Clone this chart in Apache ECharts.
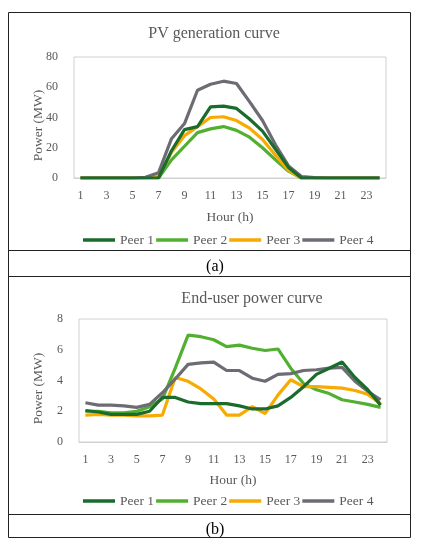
<!DOCTYPE html>
<html><head><meta charset="utf-8">
<script src="https://cdn.jsdelivr.net/npm/echarts@6/dist/echarts.min.js"></script>
<style>html,body{margin:0;padding:0;background:#fff}#c{width:424px;height:550px}</style>
</head><body><div id="c"></div>
<script>
var hours = ['1','2','3','4','5','6','7','8','9','10','11','12','13','14','15','16','17','18','19','20','21','22','23','24'];
var seriesNames = ['Peer 1','Peer 2','Peer 3','Peer 4'];
var colors = ['#1b6b2c','#52b030','#f7aa00','#6d6c74'];
// PV generation (MW)
var pvPeer1 = [0,0,0,0,0,0,0,18,32,34,47,47.5,46,39,31,19,7,0,0,0,0,0,0,0];
var pvPeer2 = [0,0,0,0,0,0,0,12,21,30,32.5,34,31.5,27,20,12,4.5,0,0,0,0,0,0,0];
var pvPeer3 = [0,0,0,0,0,0,1,17,28,34,40,40.5,38,33,25.5,15,5,0,0,0,0,0,0,0];
var pvPeer4 = [0,0,0,0,0,0.5,3.5,26,36,58,62,64,62.5,50.5,38,22,8,1,0.2,0,0,0,0,0];
// End-user power (MW)
var euPeer1 = [2.05,1.95,1.8,1.8,1.8,2.0,2.9,2.9,2.6,2.5,2.5,2.5,2.35,2.15,2.15,2.35,2.9,3.6,4.4,4.8,5.2,4.2,3.4,2.4];
var euPeer2 = [2.0,2.0,1.9,1.9,2.0,2.3,2.8,4.8,6.95,6.85,6.65,6.2,6.3,6.1,5.95,6.05,4.8,3.8,3.4,3.15,2.75,2.6,2.45,2.25];
var euPeer3 = [1.75,1.8,1.75,1.75,1.7,1.7,1.75,4.2,3.95,3.45,2.8,1.75,1.75,2.3,1.85,3.05,4.05,3.6,3.6,3.55,3.5,3.35,3.1,2.5];
var euPeer4 = [2.55,2.4,2.4,2.35,2.25,2.45,3.2,4.1,5.05,5.15,5.2,4.65,4.65,4.15,3.95,4.4,4.45,4.65,4.7,4.8,4.85,3.95,3.3,2.75];
var xTicks = ['1','3','5','7','9','11','13','15','17','19','21','23'];

var F = 'Liberation Serif, Times New Roman, serif';
var TXT = '#595959';
var chart = echarts.init(document.getElementById('c'), null, {renderer:'canvas'});

function xAx(gi,gap){
  return {type:'category', gridIndex:gi, data:hours, boundaryGap:true,
    axisLine:{show:true,lineStyle:{color:'#d0d0d0'}}, axisTick:{show:false},
    axisLabel:{interval:0, color:TXT, fontFamily:F, fontSize:12, margin:12,
      formatter:function(v){return xTicks.indexOf(v)>=0 ? v : '';}},
    name:'Hour (h)', nameLocation:'middle', nameGap:gap, nameMoveOverlap:false,
    nameTextStyle:{color:TXT, fontFamily:F, fontSize:13.5}};
}
function yAx(gi,max,itv,gap){
  return {type:'value', gridIndex:gi, min:0, max:max, interval:itv,
    axisLine:{show:false}, axisTick:{show:false}, splitLine:{show:false},
    axisLabel:{color:TXT, fontFamily:F, fontSize:12, margin:16},
    name:'Power (MW)', nameLocation:'middle', nameGap:gap, nameMoveOverlap:false,
    nameTextStyle:{color:TXT, fontFamily:F, fontSize:13.5, padding:[0,16,0,0]}};
}
var pv = [pvPeer1,pvPeer2,pvPeer3,pvPeer4];
var eu = [euPeer1,euPeer2,euPeer3,euPeer4];
var series = [];
for (var i=0;i<4;i++){
  series.push({name:seriesNames[i], type:'line', xAxisIndex:0, yAxisIndex:0, data:pv[i],
    showSymbol:false, symbol:'none', lineStyle:{width:3.2, color:colors[i]}, itemStyle:{color:colors[i]}, z:2+(i===0?2:0)});
}
for (var j=0;j<4;j++){
  series.push({name:seriesNames[j], type:'line', xAxisIndex:1, yAxisIndex:1, data:eu[j],
    showSymbol:false, symbol:'none', lineStyle:{width:3.2, color:colors[j]}, itemStyle:{color:colors[j]}, z:2+(j===0?2:0)});
}
var legendCommon = {icon:'rect', itemWidth:32, itemHeight:3.5, itemGap:2,
  textStyle:{color:TXT, fontFamily:F, fontSize:13.5}, data:seriesNames, selectedMode:false};
chart.setOption({
  animation:false,
  title:[
    {text:'PV generation curve', left:209, top:29, textAlign:'center', textVerticalAlign:'middle',
      textStyle:{color:TXT, fontFamily:F, fontSize:16, fontWeight:'normal'}},
    {text:'End-user power curve', left:247, top:294, textAlign:'center', textVerticalAlign:'middle',
      textStyle:{color:TXT, fontFamily:F, fontSize:16, fontWeight:'normal'}},
    {text:'(a)', left:210, top:262, textAlign:'center', textVerticalAlign:'middle',
      textStyle:{color:'#000', fontFamily:F, fontSize:16, fontWeight:'normal'}},
    {text:'(b)', left:210, top:525, textAlign:'center', textVerticalAlign:'middle',
      textStyle:{color:'#000', fontFamily:F, fontSize:16, fontWeight:'normal'}}
  ],
  legend:[
    Object.assign({left:78, top:228}, legendCommon),
    Object.assign({left:78, top:489}, legendCommon)
  ],
  grid:[
    {left:74, top:57, width:312, height:121, show:true, borderColor:'#d0d0d0', borderWidth:1, containLabel:false},
    {left:79, top:319, width:308, height:123, show:true, borderColor:'#d0d0d0', borderWidth:1, containLabel:false}
  ],
  xAxis:[xAx(0,32), xAx(1,31)],
  yAxis:[yAx(0,80,20,29), yAx(1,8,2,34)],
  series:series,
  graphic:[
    {type:'rect', shape:{x:8.5,y:12.5,width:402,height:525}, style:{fill:'none', stroke:'#222', lineWidth:1}, silent:true},
    {type:'line', shape:{x1:8.5,y1:250.5,x2:410.5,y2:250.5}, style:{stroke:'#222', lineWidth:1}, silent:true},
    {type:'line', shape:{x1:8.5,y1:276.5,x2:410.5,y2:276.5}, style:{stroke:'#222', lineWidth:1}, silent:true},
    {type:'line', shape:{x1:8.5,y1:514.5,x2:410.5,y2:514.5}, style:{stroke:'#222', lineWidth:1}, silent:true}
  ]
});
</script></body></html>
